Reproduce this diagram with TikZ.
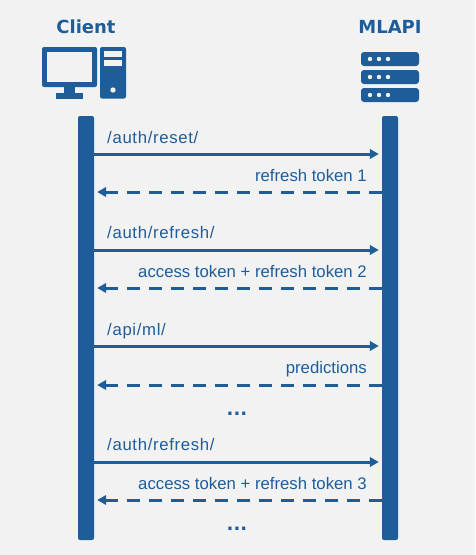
\documentclass[tikz,border=0pt]{standalone}
\usepackage{fontspec}
\setmainfont{Liberation Sans}
\newfontfamily\pathfont[LetterSpace=4]{Liberation Sans}
\newfontfamily\titlebold{DejaVu Sans Bold}
\usetikzlibrary{arrows.meta,calc}
\definecolor{bluemain}{HTML}{1F5D9A}
\definecolor{bgpage}{HTML}{F2F2F2}
\tikzset{
  x=1pt,y=-1pt,
  lifeline/.style={draw=none,fill=bluemain,rounded corners=2pt,minimum width=16pt,minimum height=424pt,inner sep=0pt},
  request/.style={bluemain,line width=3pt,-{Triangle[length=9pt,width=9.5pt]},shorten >=3pt},
  reply/.style={bluemain,line width=3pt,dash pattern=on 13pt off 9pt,-{Triangle[length=9pt,width=9.5pt]},shorten >=3pt},
  msg/.style={text=bluemain,font=\fontsize{16.75}{18}\selectfont,inner sep=0pt},
  pathmsg/.style={text=bluemain,font=\fontsize{16.75}{18}\selectfont\pathfont,inner sep=0pt},
  title/.style={text=bluemain,font=\fontsize{18}{20}\selectfont\titlebold,inner sep=0pt},
  dotsl/.style={text=bluemain,font=\fontsize{18}{18}\selectfont\titlebold,inner sep=0pt},
  ico/.style={fill=bluemain,draw=none},
  hole/.style={fill=bgpage,draw=none}
}
\begin{document}
\begin{tikzpicture}
\useasboundingbox (0,0) rectangle (475,555);
\fill[bgpage] (0,0) rectangle (475,555);
% titles
\node[title] (tc) at (86,27) {Client};
\node[title] (ts) at (390,27) {MLAPI};
% client icon
\fill[ico,rounded corners=2pt] (42,47) rectangle (97,87);
\fill[hole] (47,52) rectangle (92,82);
\fill[ico] (64,87) rectangle (75,93);
\fill[ico] (56,93) rectangle (83,98.5);
\fill[ico,rounded corners=2pt] (100,47) rectangle (126,98.5);
\fill[hole] (104,51) rectangle (122,57);
\fill[hole] (104,60) rectangle (122,66);
\fill[hole] (113,90) circle[radius=2.7];
% server icon
\foreach \yy in {52,70,88}{
  \fill[ico,rounded corners=3pt] (361,\yy) rectangle (419,\yy+14);
  \foreach \xx in {370,379,388}{\fill[hole] (\xx,\yy+7) circle[radius=2.2];}
}
% lifelines
\node[lifeline] (cl) at (86,328) {};
\node[lifeline] (sv) at (390,328) {};
% message rows
\foreach \n/\yy in {m1/154,m2/192,m3/250,m4/288,m5/346,m6/385,m7/462,m8/500}{\coordinate (\n) at (0,\yy);}
\draw[request] (cl.east |- m1) -- (sv.west |- m1);
\draw[reply] (sv.west |- m2) -- (cl.east |- m2);
\draw[request] (cl.east |- m3) -- (sv.west |- m3);
\draw[reply] (sv.west |- m4) -- (cl.east |- m4);
\draw[request] (cl.east |- m5) -- (sv.west |- m5);
\draw[reply] (sv.west |- m6) -- (cl.east |- m6);
\draw[request] (cl.east |- m7) -- (sv.west |- m7);
\draw[reply] (sv.west |- m8) -- (cl.east |- m8);
% labels
\node[pathmsg,anchor=base west] (l1) at (107,143) {/auth/reset/};
\node[msg,anchor=base east] (l2) at (367,181) {refresh token 1};
\node[pathmsg,anchor=base west] (l3) at (107,238) {/auth/refresh/};
\node[msg,anchor=base east] (l4) at (367,277) {access token + refresh token 2};
\node[pathmsg,anchor=base west] (l5) at (107,335) {/api/ml/};
\node[msg,anchor=base east] (l6) at (367,373) {predictions};
\node[pathmsg,anchor=base west] (l7) at (107,450) {/auth/refresh/};
\node[msg,anchor=base east] (l8) at (367,489) {access token + refresh token 3};
\node[dotsl,anchor=base] (d1) at (237,415) {...};
\node[dotsl,anchor=base] (d2) at (237,530) {...};
\end{tikzpicture}
\end{document}
